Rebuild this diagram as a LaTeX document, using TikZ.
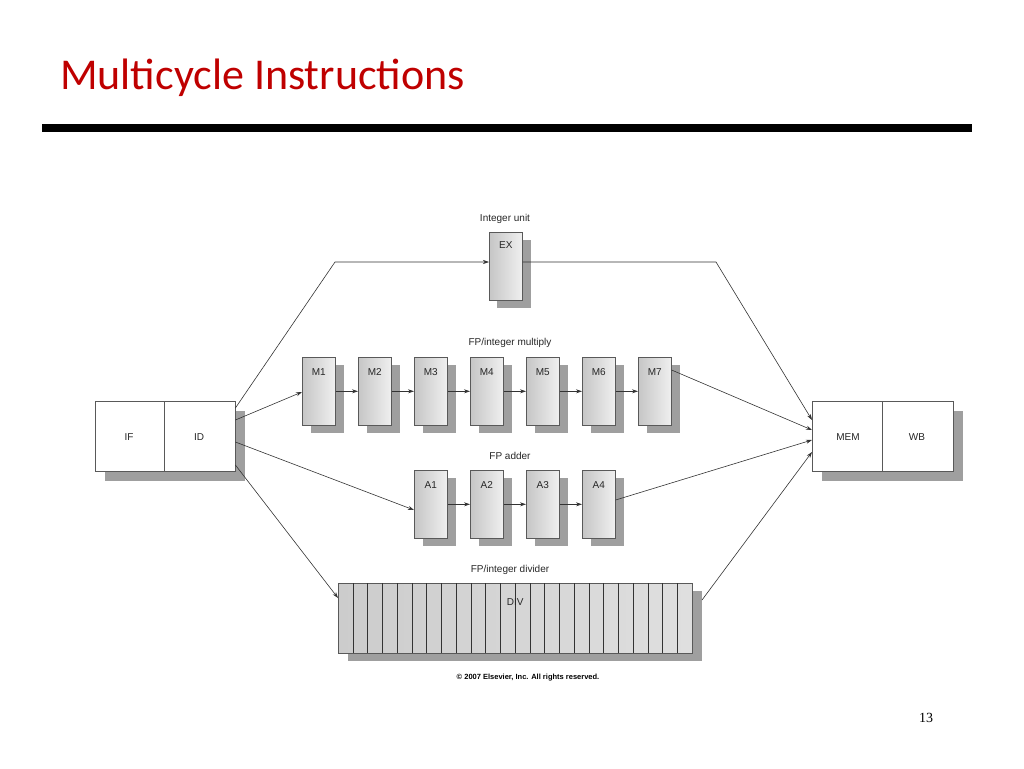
\documentclass[tikz,border=0pt]{standalone}
\usepackage{fontspec}
\setmainfont{Liberation Sans}
\newfontfamily\titlefont{Carlito}
\newfontfamily\serfont{Liberation Serif}
\usetikzlibrary{arrows.meta}
\begin{document}
\begin{tikzpicture}[x=1pt,y=-1pt,
  stage/.style={draw=gray!70!black,line width=0.6pt,left color=gray!45,right color=gray!12,minimum width=33pt,minimum height=68pt,anchor=north west,inner sep=0pt},
  shad/.style={fill=gray!75,draw=none},
  lab/.style={font=\fontsize{10}{10}\selectfont,text=black!85},
  con/.style={draw=black!80,line width=0.6pt,-{Stealth[length=6pt,width=4pt]}}]
\useasboundingbox (0,0) rectangle (1024,768);
\node[anchor=west,text=red!75!black,font=\titlefont\fontsize{44}{44}\selectfont,inner sep=0pt] (title) at (60,78) {Multicycle Instructions};
\fill (42,124) rectangle (972,132);
% EX
\fill[shad] (497,240) rectangle +(34,68);
\node[stage] (ex) at (489,232) {};
\node[lab,anchor=north] at (ex.north) [yshift=-6pt] {EX};
\node[lab] (intl) at (505,219) {Integer unit};
% M
\foreach \i in {1,...,7}{
  \pgfmathsetmacro\xx{302+56*(\i-1)}
  \fill[shad] (\xx+9,365) rectangle +(33,68);
  \node[stage] (m\i) at (\xx,357) {};
  \node[lab,anchor=north] at (m\i.north) [yshift=-8pt] {M\i};
}
\node[lab] (mull) at (510,343) {FP/integer multiply};
\foreach \i [remember=\i as \j (initially 1)] in {2,...,7}{ \draw[con] (m\j.east) -- (m\i.west); }
% A
\foreach \i in {1,...,4}{
  \pgfmathsetmacro\xx{414+56*(\i-1)}
  \fill[shad] (\xx+9,478) rectangle +(33,68);
  \node[stage] (a\i) at (\xx,470) {};
  \node[lab,anchor=north] at (a\i.north) [yshift=-8pt] {A\i};
}
\node[lab] (addl) at (510,456) {FP adder};
\foreach \i [remember=\i as \j (initially 1)] in {2,...,4}{ \draw[con] (a\j.east) -- (a\i.west); }
% DIV
\fill[shad] (348,591) rectangle (702,661);
\node[stage,minimum width=354pt,minimum height=70pt,left color=gray!40,right color=gray!25] (div) at (338,583) {};
\foreach \k in {1,...,23}{ \draw[gray!40!black,line width=0.5pt] (338+\k*14.75,583) -- (338+\k*14.75,653); }
\node[lab,anchor=north] at (div.north) [yshift=-12pt] {DIV};
\node[lab] (divl) at (510,570) {FP/integer divider};
% IF ID
\fill[shad] (105,411) rectangle (245,481);
\node[draw=gray!70!black,fill=white,minimum width=69pt,minimum height=70pt,anchor=north west,inner sep=0pt] (if) at (95,401) {};
\node[draw=gray!70!black,fill=white,minimum width=71pt,minimum height=70pt,anchor=north west,inner sep=0pt] (id) at (164,401) {};
\node[lab] at (129,437) {IF};
\node[lab] at (199,437) {ID};
% MEM WB
\fill[shad] (822,411) rectangle (963,481);
\node[draw=gray!70!black,fill=white,minimum width=70pt,minimum height=70pt,anchor=north west,inner sep=0pt] (mem) at (812,401) {};
\node[draw=gray!70!black,fill=white,minimum width=71pt,minimum height=70pt,anchor=north west,inner sep=0pt] (wb) at (882,401) {};
\node[lab] at (848,437) {MEM};
\node[lab] at (917,437) {WB};
% connectors
\coordinate (c1) at (335,262); \coordinate (c2) at (716,262);
\draw[con] ([yshift=-7pt]id.north east) -- (c1) -- (ex.west|-c1);
\draw[con] (ex.east|-c2) -- (c2) -- ([yshift=-19pt]mem.north west);
\draw[con] ([yshift=-19pt]id.north east) -- ([yshift=-35pt]m1.north west);
\draw[con] ([yshift=-41pt]id.north east) -- ([yshift=-40pt]a1.north west);
\draw[con] ([yshift=-64pt]id.north east) -- ([yshift=-15pt]div.north west);
\draw[con] ([yshift=-13pt]m7.north east) -- ([yshift=-29pt]mem.north west);
\draw[con] ([yshift=-30pt]a4.north east) -- ([yshift=-39pt]mem.north west);
\draw[con] (702,600) -- ([yshift=-51pt]mem.north west);
\node[font=\bfseries\fontsize{7.5}{7.5}\selectfont] (copy) at (528,678) {© 2007 Elsevier, Inc. All rights reserved.};
\node[font=\serfont\fontsize{14}{14}\selectfont] (pg) at (926,718) {13};
\end{tikzpicture}
\end{document}
